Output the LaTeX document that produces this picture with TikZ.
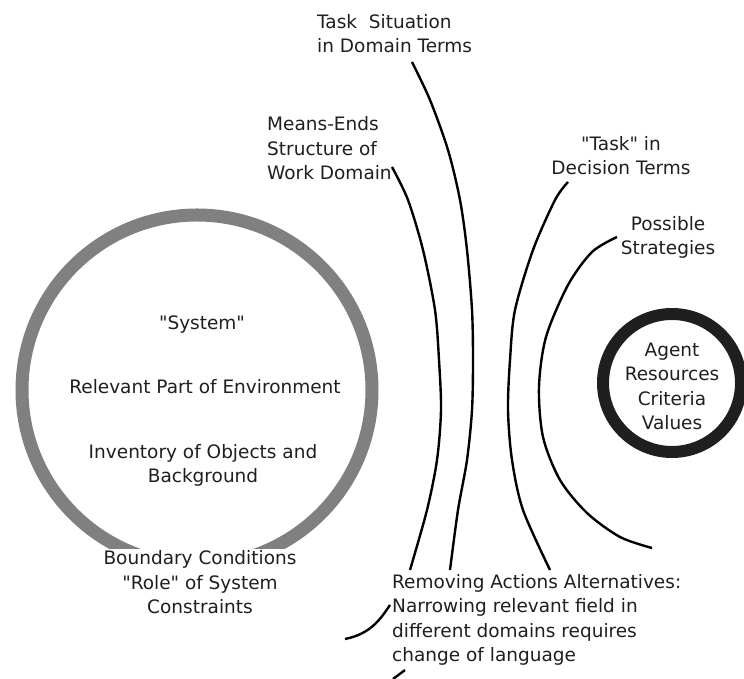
\documentclass[tikz,border=0pt]{standalone}
\usepackage{fontspec}
\setmainfont{DejaVu Sans}
\begin{document}
\begin{tikzpicture}[x=40pt, y=40pt,
  every node/.style={font=\fontsize{18.5}{24.5}\selectfont, text=black!88, inner sep=0pt},
  curve/.style={line width=2.4pt},
  system ring/.style={line width=13pt, draw=black!50},
  agent ring/.style={line width=12pt, draw=black!88}]

\useasboundingbox (0,0) rectangle (18.6,16.975);

\draw[system ring] (4.925,7.225) circle (4.375);
\draw[agent ring] (16.8,7.4) circle (1.725);

\draw[curve] plot [smooth] coordinates {(9.8,12.8) (10.2,11.975) (10.575,10.725) (10.875,9.225) (10.975,7.975) (11.025,6.725) (10.925,5.475) (10.675,4.225) (10.25,2.725)};
\draw[curve] plot [smooth] coordinates {(10.3,15.425) (10.75,14.475) (11.2,13.225) (11.5,11.975) (11.675,10.725) (11.8,9.225) (11.825,7.975) (11.8,6.725) (11.675,5.475) (11.45,4.225) (11.25,2.725)};
\draw[curve] plot [smooth] coordinates {(14.2,12.425) (13.875,11.975) (13.325,10.725) (12.875,9.225) (12.75,7.975) (12.7,6.725) (12.8,5.475) (13.075,4.225) (13.75,2.725)};
\draw[curve] plot [smooth] coordinates {(15.425,11.05) (14.8,10.675) (14.2,9.85) (13.65,8.55) (13.475,7.3) (13.575,6.05) (14.0,4.975) (14.675,4.15) (15.5,3.55) (16.3,3.275)};

\draw[curve] (8.625,1.0) .. controls (9.25,1.125) and (9.5,1.475) .. (9.75,1.85);
\draw[curve] (9.825,0) -- (10.125,0.225);

% labels, anchored at the baseline of their last line
\node[anchor=base west, align=left] (situation) at (7.925,15.65) {Task\ \ Situation\\in Domain Terms};
\node[anchor=base west, align=left] (meansends) at (6.675,12.475) {Means-Ends\\Structure of\\Work Domain};
\node[anchor=base, align=center] (decision) at (15.525,12.6) {\textquotedbl Task\textquotedbl{} in\\Decision Terms};
\node[anchor=base, align=center] (strategies) at (16.7,10.6) {Possible\\Strategies};
\node[anchor=base, align=center] (agent) at (16.8,6.225) {Agent\\Resources\\Criteria\\Values};

\node[anchor=base] (system) at (5.05,8.725) {\textquotedbl System\textquotedbl};
\node[anchor=base] (environment) at (5.125,7.125) {Relevant Part of Environment};
\node[anchor=base, align=center] (inventory) at (5.075,4.9) {Inventory of Objects and\\Background};
\node[anchor=base, align=center, fill=white, inner sep=2pt] (boundary) at (5.0,1.625) {Boundary Conditions\\\textquotedbl Role\textquotedbl{} of System\\Constraints};
\node[anchor=base west, align=left] (removing) at (9.8,0.425) {Removing Actions Alternatives:\\Narrowing relevant field in\\different domains requires\\change of language};
\end{tikzpicture}
\end{document}
